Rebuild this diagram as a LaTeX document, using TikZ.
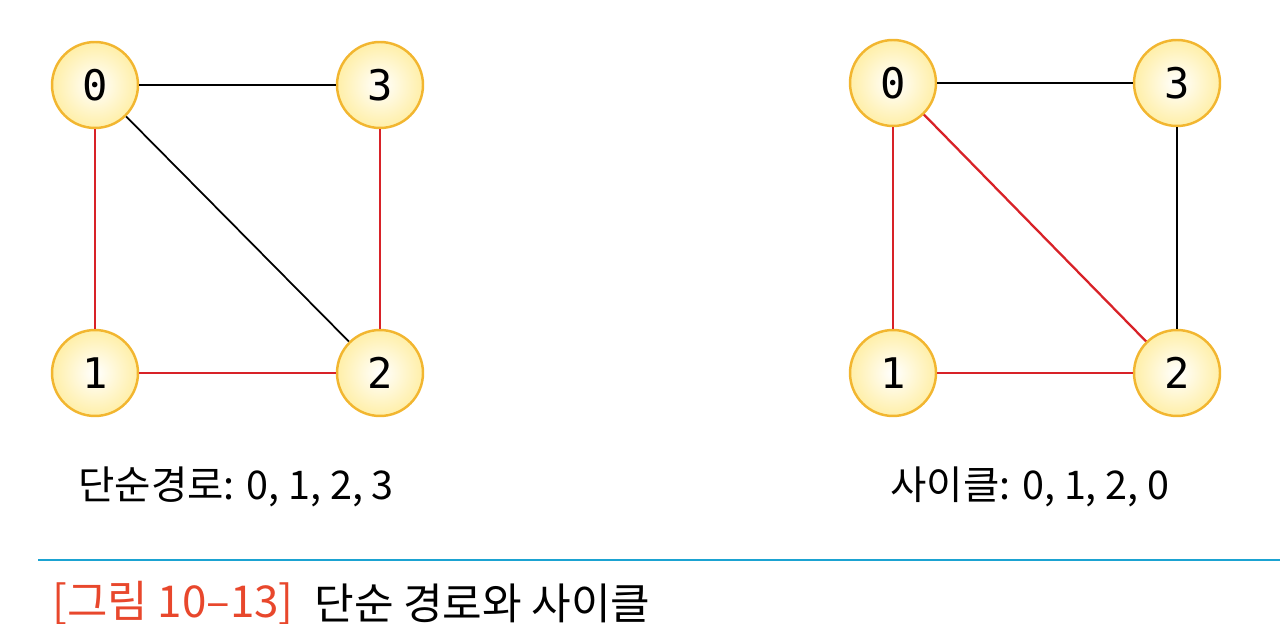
\documentclass[tikz,border=0pt]{standalone}
\usepackage{fontspec}
\usetikzlibrary{positioning}
\newfontfamily\kr{Noto Sans CJK KR}
\newfontfamily\dmono{DejaVu Sans Mono}
\definecolor{vRing}{HTML}{F2B630}
\definecolor{vFill}{HTML}{FFEFA8}
\definecolor{eRed}{HTML}{D82228}
\definecolor{capRed}{HTML}{E8472C}
\definecolor{rule}{HTML}{1BA3D2}

\begin{document}
\begin{tikzpicture}[x=0.02cm, y=-0.02cm,
      v/.style={circle, draw=vRing, line width=1.4pt, shading=radial,
        inner color=white, outer color=vFill, minimum size=1.72cm,
        inner sep=0pt, font=\dmono\fontsize{24}{24}\selectfont},
      e/.style={line width=1pt},
      path/.style={eRed, line width=1.3pt},
      lbl/.style={anchor=west, inner sep=0pt, font=\kr\fontsize{22.5}{26}\selectfont}]
    \useasboundingbox (0,0) rectangle (1280,624);
    % simple path
    \node[v] (a0) at (95,85) {0};
    \node[v] (a3) at (380,85) {3};
    \node[v] (a1) at (95,373) {1};
    \node[v] (a2) at (380,373) {2};
    \draw[e] (a0) -- (a3);
    \draw[e] (a0) -- (a2);
    \draw[path] (a0) -- (a1);
    \draw[path] (a1) -- (a2);
    \draw[path] (a3) -- (a2);
    \node[lbl] (pathlbl) at (78,487) {단순경로: 0, 1, 2, 3};
    % cycle
    \node[v] (b0) at (893,83) {0};
    \node[v] (b3) at (1177,83) {3};
    \node[v] (b1) at (893,373) {1};
    \node[v] (b2) at (1177,373) {2};
    \draw[e] (b0) -- (b3);
    \draw[e] (b3) -- (b2);
    \draw[path] (b0) -- (b1);
    \draw[path] (b1) -- (b2);
    \draw[path] (b0) -- (b2);
    \node[lbl] (cyclbl) at (890,487) {사이클: 0, 1, 2, 0};
    % caption
    \coordinate (ruleL) at (38,560);
    \coordinate (ruleR) at (1280,560);
    \draw[rule, line width=1.2pt] (ruleL) -- (ruleR);
    \node[lbl, font=\kr\fontsize{25}{30}\selectfont, text=capRed] (fig) at (52,603) {[그림 10–13]};
    \node[lbl, font=\kr\fontsize{24.5}{30}\selectfont, right=0.4cm of fig] (title) {단순 경로와 사이클};
  \end{tikzpicture}
\end{document}
